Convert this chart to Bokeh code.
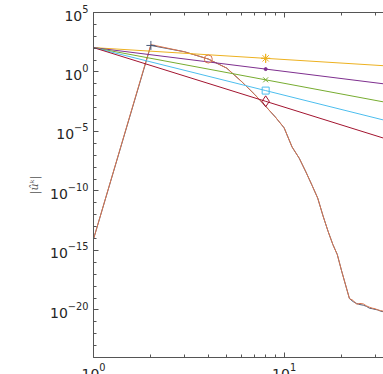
from bokeh.plotting import figure
from bokeh.models import LogAxis, FixedTicker, LogTickFormatter, Range1d, CustomJSTickFormatter
from bokeh.embed import file_html
from bokeh.resources import INLINE

# wavenumbers
k = list(range(1, 34))
# spectrum magnitudes |u^k| (two nearly identical series)
spec_a = [8.9e-15, 170, 50, 12.3, 2.1, 0.15, 0.013, 1.3e-3, 1.6e-4, 2.0e-5,
          5.0e-7, 5.6e-8, 4.0e-9, 3.0e-10, 2.5e-11, 7.9e-13, 4.0e-14, 3.2e-15,
          4.5e-16, 2.0e-17, 1.26e-18, 9.0e-20, 5.0e-20, 3.5e-20, 2.8e-20,
          2.5e-20, 2.0e-20, 1.4e-20, 1.26e-20, 1.1e-20, 1.0e-20, 7.9e-21, 7.1e-21]
spec_b = [8.9e-15, 200, 50, 12.3, 2.1, 0.15, 0.013, 1.3e-3, 1.6e-4, 2.0e-5,
          5.0e-7, 5.6e-8, 4.0e-9, 3.0e-10, 2.5e-11, 7.9e-13, 4.0e-14, 3.2e-15,
          4.5e-16, 2.0e-17, 1.26e-18, 9.0e-20, 6.3e-20, 3.0e-20, 3.5e-20,
          3.2e-20, 2.2e-20, 1.7e-20, 1.4e-20, 1.26e-20, 1.0e-20, 8.9e-21, 7.9e-21]
# reference power-law slopes k^-1 ... k^-5
kp = [1, 8, 64]
p1 = [112, 14.0, 1.75]
p2 = [112, 1.75, 0.0273]
p3 = [112, 0.219, 4.27e-4]
p4 = [112, 0.0273, 6.68e-6]
p5 = [112, 3.42e-3, 1.04e-7]

x_ticks = [1, 10, 100]
x_minor = [2, 3, 4, 5, 6, 7, 8, 9, 20, 30, 40, 50, 60, 70, 80, 90]
y_ticks = [1e-20, 1e-15, 1e-10, 1e-5, 1e0, 1e5]
y_minor = [10.0 ** e for e in range(-24, 6)]

BLUE = "#4a5a78"
ORANGE = "#D9764f"
YELLOW = "#EDB120"
PURPLE = "#7E2F8E"
GREEN = "#77AC30"
CYAN = "#4DBEEE"
RED = "#A2142F"
AX = "#555555"
TXT = "#262626"

p = figure(x_axis_type="log", y_axis_type="log",
           x_range=Range1d(1, 33.2), y_range=Range1d(1e-24, 1e5),
           frame_width=290, frame_height=345,
           min_border_left=93, min_border_right=0, min_border_top=12, min_border_bottom=0,
           output_backend="svg", toolbar_location=None)
p.outline_line_color = None
p.xgrid.visible = False
p.ygrid.visible = False
p.background_fill_color = "white"
p.border_fill_color = "white"

def style(ax, ticks, minor, labels=True):
    ax.ticker = FixedTicker(ticks=ticks, minor_ticks=minor)
    ax.axis_line_color = AX
    ax.major_tick_line_color = AX
    ax.minor_tick_line_color = AX
    ax.major_tick_in = 5
    ax.major_tick_out = 0
    ax.minor_tick_in = 3
    ax.minor_tick_out = 0
    if labels:
        ax.formatter = LogTickFormatter()
        ax.major_label_text_font = "DejaVu Sans"
        ax.major_label_text_font_size = "14px"
        ax.major_label_text_color = TXT
    else:
        ax.formatter = CustomJSTickFormatter(code="return ''")
        ax.major_label_standoff = 0

style(p.xaxis[0], x_ticks, x_minor)
p.xaxis[0].major_label_standoff = 5
style(p.yaxis[0], y_ticks, y_minor)
p.yaxis[0].major_label_standoff = 5
p.yaxis[0].axis_label = "|ûᵏ|"
p.yaxis[0].axis_label_text_font = "DejaVu Serif"
p.yaxis[0].axis_label_text_font_style = "italic"
p.yaxis[0].axis_label_text_font_size = "11px"
p.yaxis[0].axis_label_text_color = "#555555"
p.yaxis[0].axis_label_standoff = 6

top = LogAxis()
style(top, x_ticks, x_minor, labels=False)
p.add_layout(top, "above")

p.line(k, spec_a, line_color=BLUE, line_width=1)
p.line(k, spec_b, line_color=ORANGE, line_width=1)
p.line(kp, p1, line_color=YELLOW, line_width=1)
p.line(kp, p2, line_color=PURPLE, line_width=1)
p.line(kp, p3, line_color=GREEN, line_width=1)
p.line(kp, p4, line_color=CYAN, line_width=1)
p.line(kp, p5, line_color=RED, line_width=1)

p.scatter([k[1]], [spec_a[1]], marker="cross", size=9, line_color=BLUE, line_width=1)
p.scatter([k[3]], [spec_b[3]], marker="circle", size=8, line_color=ORANGE, fill_color=None, line_width=1)
p.scatter([kp[1]], [p1[1]], marker="asterisk", size=9, line_color=YELLOW, line_width=1)
p.scatter([kp[1]], [p1[1]], marker="cross", size=9, line_color=YELLOW, line_width=1)
p.scatter([kp[1]], [p2[1]], marker="circle", size=3, line_color=PURPLE, fill_color=PURPLE)
p.scatter([kp[1]], [p3[1]], marker="x", size=7, line_color=GREEN, line_width=1)
p.scatter([kp[1]], [p4[1]], marker="square", size=7, line_color=CYAN, fill_color=None, line_width=1)
p.scatter([kp[1]], [p5[1]], marker="diamond", size=11, line_color=RED, fill_color=None, line_width=1)

open("out.html", "w").write(file_html(p, INLINE))
